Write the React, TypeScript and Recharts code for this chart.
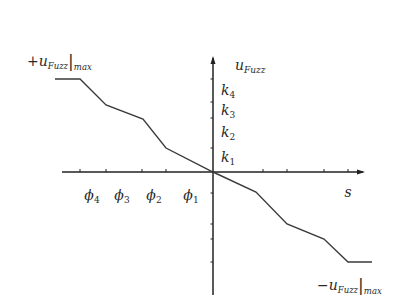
import React from "react";
import { LineChart, Line, XAxis, YAxis, ReferenceLine, ReferenceDot } from "recharts";

// Coordinates: units relative to the origin of the s / u_Fuzz axes
const curveS = [-158, -133, -107, -70, -47, 0, 43, 74, 111, 135, 159];
const curveU = [93, 93, 67, 53, 24, 0, -20, -52, -67, -90, -90];

const sTicks = [-133, -107, -71, -47, 50, 74, 111, 135];
const uTicks = [93, 70, 54, 24, -21, -52, -67, -90];

const sAxisRange = [-151, 150];
const uAxisRange = [-123, 114];

const phiLabels = ["4", "3", "2", "1"];
const phiPos = [-121, -91, -59, -22];
const kLabels = ["4", "3", "2", "1"];
const kPos = [77, 57, 35, 10];

const data = curveS.map((s, i) => ({ s, u: curveU[i] }));

const FONT = "DejaVu Serif, serif";
const INK = "#222";

const textShape = (content: React.ReactNode, anchor: "start" | "middle" | "end" = "start") =>
  (p: any) => (
    <text x={p.cx} y={p.cy} textAnchor={anchor}
      style={{ fontFamily: FONT, fontStyle: "italic", fontSize: 14, fill: "#2a2a2a" }}>
      {content}
    </text>
  );

const uFuzz = (
  <>
    <tspan>u</tspan>
    <tspan style={{ fontSize: 9 }} dy={3}>Fuzz</tspan>
  </>
);

const maxLabel = (sign: string) => (
  <>
    <tspan style={{ fontStyle: "normal" }}>{sign}</tspan>
    <tspan>u</tspan>
    <tspan style={{ fontSize: 8.5 }} dy={3}>Fuzz</tspan>
    <tspan style={{ fontStyle: "normal", fontSize: 17 }} dy={-2}>|</tspan>
    <tspan style={{ fontSize: 8.5 }} dy={3}>max</tspan>
  </>
);

export default function App() {
  return (
    <div style={{ position: "absolute", left: 0, top: 0, background: "#fff" }}>
      <LineChart width={412} height={305} data={data} margin={{ top: 50, right: 30, bottom: 5, left: 20 }}>
        <XAxis type="number" dataKey="s" domain={[-193, 169]} hide allowDataOverflow />
        <YAxis type="number" domain={[-128, 122]} hide allowDataOverflow />
        {/* axes */}
        <ReferenceLine segment={[{ x: sAxisRange[0], y: 0 }, { x: sAxisRange[1], y: 0 }]} stroke={INK} strokeWidth={1.5} />
        <ReferenceLine segment={[{ x: 0, y: uAxisRange[0] }, { x: 0, y: uAxisRange[1] }]} stroke={INK} strokeWidth={1.5} />
        {/* arrows */}
        <ReferenceDot x={sAxisRange[1]} y={0} r={0}
          shape={(p: any) => <polygon points={`${p.cx + 2},${p.cy} ${p.cx - 6},${p.cy - 2.5} ${p.cx - 6},${p.cy + 2.5}`} fill={INK} />} />
        <ReferenceDot x={0} y={uAxisRange[1]} r={0}
          shape={(p: any) => <polygon points={`${p.cx},${p.cy - 2} ${p.cx - 2.5},${p.cy + 6} ${p.cx + 2.5},${p.cy + 6}`} fill={INK} />} />
        {/* ticks */}
        {sTicks.map((t) => (
          <ReferenceDot key={"s" + t} x={t} y={0} r={0}
            shape={(p: any) => <line x1={p.cx} x2={p.cx} y1={p.cy} y2={p.cy - 3} stroke={INK} strokeWidth={1} />} />
        ))}
        {uTicks.map((t) => (
          <ReferenceDot key={"u" + t} x={0} y={t} r={0}
            shape={(p: any) => <line x1={p.cx - 2.5} x2={p.cx} y1={p.cy} y2={p.cy} stroke={INK} strokeWidth={1} />} />
        ))}
        <Line type="linear" dataKey="u" stroke="#3a3a3a" strokeWidth={1.4} dot={false} isAnimationActive={false} />
        {/* labels */}
        <ReferenceDot x={-186} y={106} r={0} shape={textShape(maxLabel("+"))} />
        <ReferenceDot x={104} y={-118} r={0} shape={textShape(maxLabel("−"))} />
        <ReferenceDot x={22} y={102} r={0} shape={textShape(uFuzz)} />
        <ReferenceDot x={135} y={-25} r={0} shape={textShape("s", "middle")} />
        {kLabels.map((k, i) => (
          <ReferenceDot key={"k" + k} x={8} y={kPos[i]} r={0}
            shape={textShape(<><tspan>k</tspan><tspan style={{ fontStyle: "normal", fontSize: 9 }} dy={3}>{k}</tspan></>)} />
        ))}
        {phiLabels.map((k, i) => (
          <ReferenceDot key={"p" + k} x={phiPos[i]} y={-28} r={0}
            shape={textShape(<><tspan>ϕ</tspan><tspan style={{ fontStyle: "normal", fontSize: 9 }} dy={3}>{k}</tspan></>, "middle")} />
        ))}
      </LineChart>
    </div>
  );
}
